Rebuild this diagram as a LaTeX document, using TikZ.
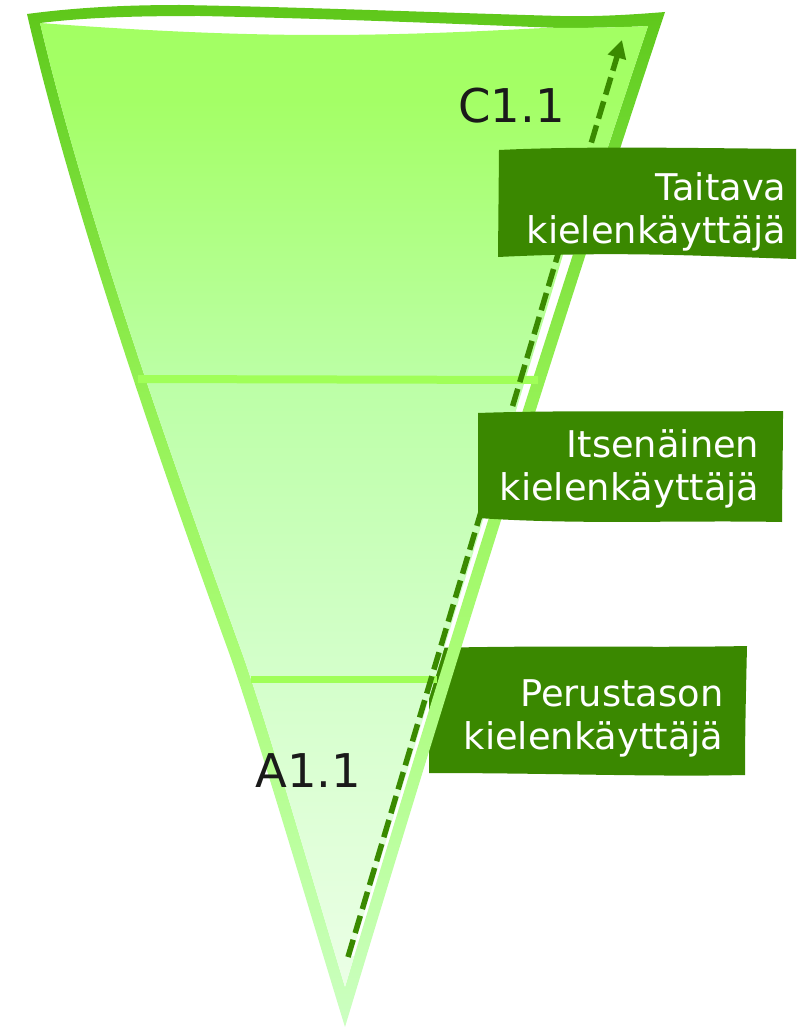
\documentclass[tikz,border=0pt]{standalone}
\usepackage{fontspec}
\setmainfont{DejaVu Sans}
\usetikzlibrary{arrows.meta}

\definecolor{boxgreen}{HTML}{3A8800}
\definecolor{arrowgreen}{HTML}{3A8A00}
\definecolor{levelcol}{HTML}{A0FF58}
\definecolor{labeldark}{HTML}{1A1A1A}
\definecolor{bA}{HTML}{5EC619}
\definecolor{bB}{HTML}{6AD42A}
\definecolor{bC}{HTML}{7EE03C}
\definecolor{bD}{HTML}{92F052}
\definecolor{bE}{HTML}{AAFC76}
\definecolor{bF}{HTML}{BCFFA0}
\definecolor{bG}{HTML}{CCFFC2}
\definecolor{fA}{HTML}{A2FF62}
\definecolor{fB}{HTML}{A4FF66}
\definecolor{fC}{HTML}{BCFFA6}
\definecolor{fD}{HTML}{D2FFC8}
\definecolor{fE}{HTML}{EBFFE6}

\pgfdeclareverticalshading{bordershade}{100bp}{color(0bp)=(bG); color(25bp)=(bG); color(33.62bp)=(bF); color(43.35bp)=(bE); color(56.5bp)=(bD); color(63.56bp)=(bC); color(70.13bp)=(bB); color(75bp)=(bA); color(100bp)=(bA)}
\pgfdeclareverticalshading{fillshade}{100bp}{color(0bp)=(fE); color(26.95bp)=(fE); color(43.35bp)=(fD); color(56.5bp)=(fC); color(70.13bp)=(fB); color(75bp)=(fA); color(100bp)=(fA)}

\tikzset{
  labelbox/.style={fill=boxgreen},
  labeltext/.style={text=white, font=\fontsize{36.8pt}{43pt}\selectfont, align=right, inner sep=0pt, anchor=base east},
  grade/.style={text=labeldark, font=\fontsize{46.5pt}{50pt}\selectfont, inner sep=0pt, anchor=base west},
  levelline/.style={levelcol, line width=8pt},
  progress/.style={arrowgreen, line width=5.5pt, dash pattern=on 18pt off 7pt, -{Triangle[length=18pt,width=18pt]}},
}

\begin{document}
\begin{tikzpicture}[x=1pt,y=-1pt]
\useasboundingbox (0,0) rectangle (796,1027);

% box behind the funnel
\path[labelbox] (429,648) .. controls (560,645) and (650,648) .. (747,646) .. controls (746,690) and (745,730) .. (745,775) .. controls (650,777) and (550,773) .. (429,773) -- cycle;

% funnel border (ring)
\begin{scope}[even odd rule]
  \clip
    (27,14) .. controls (80,7) and (130,5) .. (180,5) .. controls (300,7) and (450,13) .. (560,16) .. controls (600,17) and (640,14) .. (665,12) .. controls (553,350) and (447,689) .. (345,1027) .. controls (315,930) and (253,719) .. (228,650) .. controls (151,438) and (70,200) .. (27,14) -- cycle
    (40,23) .. controls (90,17) and (140,16) .. (200,16) .. controls (350,19) and (480,25) .. (560,28) .. controls (600,28) and (630,27) .. (648,26) .. controls (540,350) and (434,689) .. (345,987) .. controls (320,905) and (266,719) .. (241,650) .. controls (164,438) and (83,205) .. (40,23) -- cycle;
  \shade[shading=bordershade] (0,0) rectangle (796,1027);
\end{scope}

% funnel fill, with a gap beside the arrow
\coordinate (arrowStart) at (348,957);
\coordinate (arrowTip) at (622,40);
\begin{scope}
  \clip (40,23) .. controls (120,29) and (220,35) .. (320,35) .. controls (420,35) and (500,30) .. (545,28) .. controls (600,28) and (630,27) .. (648,26) .. controls (540,350) and (434,689) .. (345,987) .. controls (320,905) and (266,719) .. (241,650) .. controls (164,438) and (83,205) .. (40,23) -- cycle;
  \clip (0,0) -- (796,0) -- (796,230) -- (570.5,230) -- (351.3,956) -- (796,956) -- (796,1027) -- (0,1027) -- cycle;
  \shade[shading=fillshade] (0,0) rectangle (796,1027);
\end{scope}

% level lines
\coordinate (l1a) at (138,379);
\coordinate (l1b) at (538,380);
\coordinate (l2a) at (251,679);
\coordinate (l2b) at (437,679);
\draw[levelline] (l1a) -- (l1b);
\draw[levelline, line width=7pt] (l2a) -- (l2b);

% progress arrow
\draw[progress] (arrowStart) -- (arrowTip);

% boxes in front
\path[labelbox] (499,150) .. controls (580,146) and (690,148) .. (796,149) -- (796,259) .. controls (700,256) and (620,251) .. (498,257) -- cycle;
\path[labelbox] (478,413) .. controls (560,410) and (680,412) .. (783,411) .. controls (783,450) and (782,490) .. (782,522) .. controls (680,520) and (580,525) .. (478,518) -- cycle;

\node[labeltext] (taitava) at (786.5,243) {Taitava\\kielenkäyttäjä};
\node[labeltext] (itsenainen) at (759.5,500) {Itsenäinen\\kielenkäyttäjä};
\node[labeltext] (perustaso) at (723.5,749.5) {Perustason\\kielenkäyttäjä};

\node[grade] (c11) at (458,123) {C1.1};
\node[grade] (a11) at (255,787) {A1.1};
\end{tikzpicture}
\end{document}
